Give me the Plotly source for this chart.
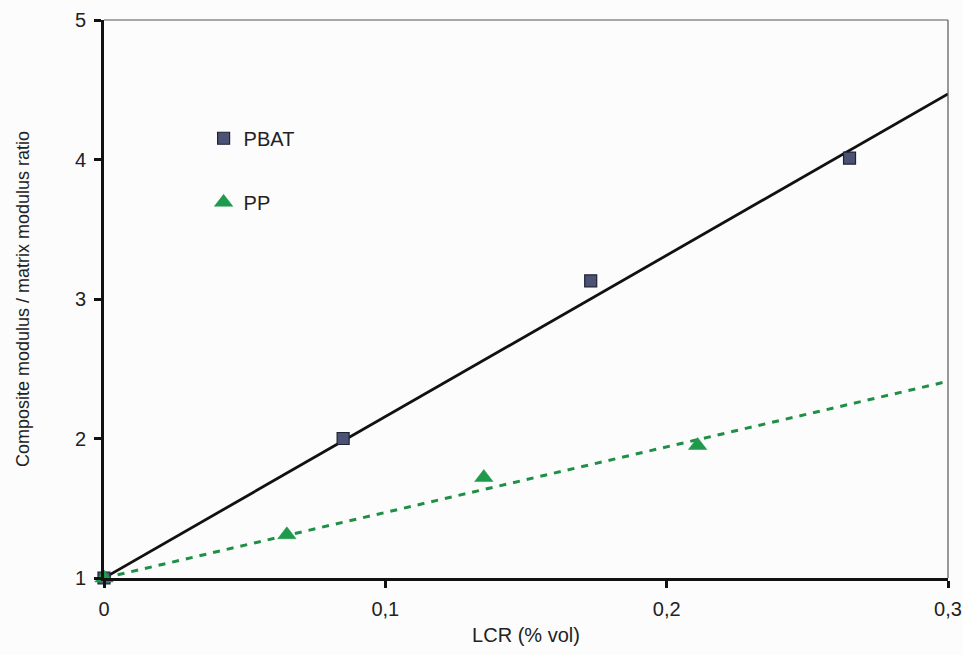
import plotly.graph_objects as go

# Measured points
pbat_x = [0.0, 0.085, 0.173, 0.265]
pbat_y = [1.0, 2.0, 3.13, 4.01]
pp_x = [0.0, 0.065, 0.135, 0.211]
pp_y = [1.0, 1.31, 1.72, 1.95]

# Linear trend lines (end points over the plotted range)
fit_x = [0.0, 0.3]
pbat_fit_y = [1.0, 4.47]
pp_fit_y = [1.0, 2.41]

x_ticks = [0, 0.1, 0.2, 0.3]
x_tick_text = ["0", "0,1", "0,2", "0,3"]
y_ticks = [1, 2, 3, 4, 5]

FONT = "Liberation Sans, Arial, sans-serif"

fig = go.Figure()

fig.add_trace(go.Scatter(
    x=fit_x, y=pbat_fit_y, mode="lines",
    line=dict(color="#111111", width=2.8),
    showlegend=False, hoverinfo="skip"))
fig.add_trace(go.Scatter(
    x=fit_x, y=pp_fit_y, mode="lines",
    line=dict(color="#1f8f45", width=3, dash="7px,7px"),
    showlegend=False, hoverinfo="skip"))

fig.add_trace(go.Scatter(
    x=pbat_x, y=pbat_y, mode="markers", name="PBAT", legendgroup="a",
    cliponaxis=False,
    marker=dict(symbol="square", size=12, color="#4b5273",
                line=dict(color="#1e2233", width=1.2))))
fig.add_trace(go.Scatter(
    x=pp_x, y=pp_y, mode="markers", name="PP", legendgroup="b",
    cliponaxis=False,
    marker=dict(symbol="triangle-up", size=16, color="#1f9a4c",
                line=dict(color="#1f9a4c", width=0.5))))

axis_common = dict(
    showgrid=False, zeroline=False, showline=True, automargin=False,
    linecolor="#111111", linewidth=2.8,
    ticks="outside", ticklen=7, tickwidth=2.5, tickcolor="#111111",
    tickfont=dict(family=FONT, size=20, color="#222222"),
)

fig.update_layout(
    width=963, height=655,
    margin=dict(l=104, r=15, t=20, b=77),
    paper_bgcolor="#fcfcfc", plot_bgcolor="#fcfcfc",
    font=dict(family=FONT, color="#222222"),
    xaxis=dict(range=[0, 0.3], tickvals=x_ticks, ticktext=x_tick_text,
               ticklabelstandoff=4,
               title=dict(text="LCR (% vol)", font=dict(size=20), standoff=10),
               **axis_common),
    yaxis=dict(range=[1, 5], tickvals=y_ticks, ticklabelstandoff=4,
               title=dict(text="Composite modulus / matrix modulus ratio",
                          font=dict(size=18), standoff=41),
               **axis_common),
    legend=dict(x=0.118, y=0.823, xanchor="left", yanchor="top",
                bgcolor="rgba(0,0,0,0)", tracegroupgap=35,
                font=dict(family=FONT, size=20, color="#222222"), itemwidth=30),
    shapes=[
        dict(type="line", xref="paper", yref="paper", x0=0, x1=1, y0=1, y1=1,
             line=dict(color="#555555", width=1.2)),
        dict(type="line", xref="paper", yref="paper", x0=1, x1=1, y0=0, y1=1,
             line=dict(color="#555555", width=1.2)),
    ],
)

fig.write_html("out.html")
